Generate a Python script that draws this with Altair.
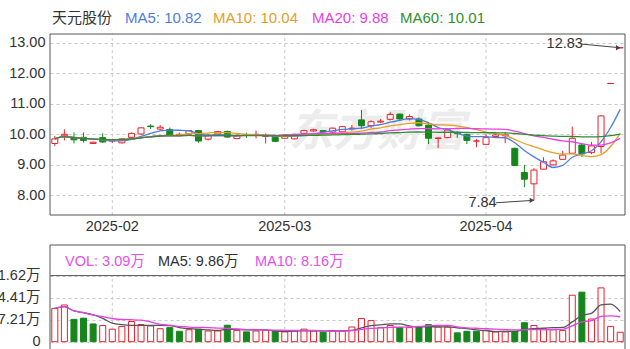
import altair as alt
import pandas as pd

# ---------------- data ----------------
dates = [
    "2025-01-20", "2025-01-21", "2025-01-22", "2025-01-23", "2025-01-24", "2025-01-27",
    "2025-02-05", "2025-02-06", "2025-02-07", "2025-02-10", "2025-02-11", "2025-02-12",
    "2025-02-13", "2025-02-14", "2025-02-17", "2025-02-18", "2025-02-19", "2025-02-20",
    "2025-02-21", "2025-02-24", "2025-02-25", "2025-02-26", "2025-02-27", "2025-02-28",
    "2025-03-03", "2025-03-04", "2025-03-05", "2025-03-06", "2025-03-07", "2025-03-10",
    "2025-03-11", "2025-03-12", "2025-03-13", "2025-03-14", "2025-03-17", "2025-03-18",
    "2025-03-19", "2025-03-20", "2025-03-21", "2025-03-24", "2025-03-25", "2025-03-26",
    "2025-03-27", "2025-03-28", "2025-03-31", "2025-04-01", "2025-04-02", "2025-04-03",
    "2025-04-07", "2025-04-08", "2025-04-09", "2025-04-10", "2025-04-11", "2025-04-14",
    "2025-04-15", "2025-04-16", "2025-04-17", "2025-04-18", "2025-04-21", "2025-04-22",
]
opens = [
    9.70, 9.95, 9.90, 9.90, 9.70, 9.89, 9.78, 9.72, 9.90, 10.01,
    10.27, 10.17, 10.16, 9.98, 10.01, 10.12, 9.84, 10.01, 10.09, 9.86,
    9.98, 9.97, 9.93, 9.90, 9.87, 9.85, 10.03, 10.11, 10.12, 10.07,
    10.08, 10.18, 10.47, 10.28, 10.40, 10.49, 10.66, 10.50, 10.50, 10.30,
    9.86, 9.89, 10.05, 10.00, 9.78, 9.67, 9.93, 9.95, 9.54, 8.75,
    8.38, 8.86, 9.00, 9.18, 9.38, 9.65, 9.40, 9.60, 11.66, 12.83,
]
closes = [
    9.85, 10.00, 9.82, 9.80, 9.74, 9.75, 9.80, 9.85, 10.03, 10.21,
    10.25, 10.23, 9.97, 10.00, 10.12, 9.78, 9.97, 10.09, 9.91, 9.97,
    9.96, 10.00, 9.95, 9.77, 9.98, 10.00, 10.12, 10.15, 10.08, 10.20,
    10.25, 10.20, 10.28, 10.41, 10.43, 10.65, 10.50, 10.58, 10.28, 9.87,
    9.88, 10.14, 10.02, 9.80, 9.78, 9.89, 9.98, 9.98, 8.98, 8.53,
    8.83, 9.10, 9.13, 9.32, 9.87, 9.36, 9.62, 10.60, 11.66, 12.83,
]
highs = [
    9.95, 10.16, 10.06, 10.06, 9.76, 10.03, 9.86, 9.87, 10.06, 10.23,
    10.33, 10.30, 10.22, 10.05, 10.14, 10.14, 9.99, 10.11, 10.12, 9.99,
    10.05, 10.12, 10.03, 9.93, 10.00, 10.02, 10.15, 10.18, 10.14, 10.22,
    10.27, 10.30, 10.79, 10.46, 10.50, 10.72, 10.68, 10.65, 10.55, 10.40,
    9.90, 10.16, 10.10, 10.02, 9.85, 10.00, 10.08, 10.08, 9.57, 9.00,
    8.89, 9.25, 9.18, 9.46, 10.25, 9.70, 9.75, 10.62, 11.66, 12.83,
]
lows = [
    9.62, 9.80, 9.70, 9.73, 9.68, 9.71, 9.72, 9.70, 9.88, 9.99,
    10.17, 10.13, 9.95, 9.93, 9.99, 9.72, 9.80, 9.99, 9.88, 9.84,
    9.88, 9.87, 9.70, 9.74, 9.85, 9.83, 10.00, 10.08, 10.05, 10.05,
    10.06, 10.12, 10.17, 10.21, 10.36, 10.45, 10.48, 10.45, 10.25, 9.68,
    9.55, 9.87, 9.88, 9.68, 9.58, 9.67, 9.90, 9.71, 8.98, 8.27,
    7.84, 8.85, 8.98, 9.18, 9.38, 9.26, 9.35, 9.38, 11.66, 12.83,
]
# volume in 万
volumes = [
    10.9, 12.0, 7.3, 7.7, 5.8, 5.3, 4.1, 5.0, 6.6, 5.6,
    5.2, 4.25, 4.6, 3.4, 3.9, 4.1, 3.5, 3.5, 5.4, 3.7,
    3.2, 3.5, 3.7, 3.4, 3.2, 3.5, 4.1, 3.5, 3.1, 3.5,
    3.5, 4.8, 7.6, 6.9, 4.6, 5.3, 4.6, 4.6, 4.6, 5.6,
    4.8, 4.8, 2.9, 3.4, 3.4, 3.7, 3.2, 3.2, 3.4, 6.2,
    5.3, 4.25, 3.9, 3.7, 15.2, 16.2, 7.4, 17.6, 5.0, 3.09,
]
# 1 = red (up) volume bar, 0 = green (down) volume bar
vol_up = [
    1, 1, 0, 0, 0, 1, 1, 1, 1, 1,
    1, 1, 0, 0, 1, 0, 1, 1, 0, 1,
    0, 1, 1, 0, 1, 1, 1, 1, 0, 1,
    1, 1, 1, 1, 1, 1, 0, 1, 0, 0,
    1, 1, 0, 0, 0, 1, 1, 1, 0, 0,
    1, 1, 1, 1, 1, 0, 1, 1, 1, 1,
]

stock_name = "天元股份"
ma_names = ["MA5", "MA10", "MA20", "MA60"]
ma_windows = [5, 10, 20, 60]
ma_legend_values = [10.82, 10.04, 9.88, 10.01]
vol_legend_names = ["VOL", "MA5", "MA10"]
vol_legend_values = [3.09, 9.86, 8.16]
vol_ma_windows = [5, 10]

price_ticks = [8, 9, 10, 11, 12, 13]
price_domain = [7.36, 13.28]
vol_ticks = [0, 7.21, 14.41, 21.62]
vol_domain = [0, 21.62]

month_starts = ["2025-02-05", "2025-03-03", "2025-04-01"]
month_labels = ["2025-02", "2025-03", "2025-04"]

# max / min annotations
ann_values = [12.83, 7.84]
ann_point_dates = ["2025-04-22", "2025-04-09"]
ann_label_dates = ["2025-04-16", "2025-04-02"]
ann_label_values = [12.95, 7.76]

# ---------------- styling ----------------
RED = "#e8202a"
GREEN = "#15861b"
MA_COLORS = ["#4e7ce6", "#e5a024", "#e63fe6", "#2f8f2f"]
VOL_MA_COLORS = ["#555555", "#e63fe6"]
VOL_LEGEND_COLORS = ["#e650e6", "#333333", "#e650e6"]
GRID = "#c8c8c8"
FRAME = "#555555"
FONT = "Liberation Sans, Noto Sans CJK SC, sans-serif"

W, H = 575, 315
PRICE_TOP, PRICE_BOTTOM = 0, 181
VOL_TOP_FRAME = 211
VOL_RANGE = [307.7, 241.6]

df = pd.DataFrame({
    "date": dates, "open": opens, "close": closes, "high": highs, "low": lows,
    "vol": volumes, "vol_up": vol_up,
})
months_df = pd.DataFrame({"date": month_starts, "label": month_labels})
ann_df = pd.DataFrame({
    "date": ann_point_dates, "value": ann_values,
    "label_date": ann_label_dates, "label_value": ann_label_values,
    "text": [f"{v:.2f}" for v in ann_values],
})
one = alt.Data(values=[{}])

x_scale = alt.Scale(type="band", domain=dates, paddingInner=0, paddingOuter=0)


def X(field="date"):
    return alt.X(f"{field}:O", scale=x_scale, axis=None)


price_scale = alt.Scale(domain=price_domain, range=[PRICE_BOTTOM, PRICE_TOP], nice=False, zero=False)
vol_scale = alt.Scale(domain=vol_domain, range=VOL_RANGE, nice=False, zero=False)

price_axis = alt.Axis(
    orient="left", values=price_ticks, format=".2f", title=None,
    grid=True, gridDash=[3, 3], gridColor=GRID, gridWidth=1,
    ticks=False, tickSize=0, domain=False, labelPadding=5,
    labelFont=FONT, labelFontSize=14.5, labelColor="#333333", labelOverlap=False,
)
vol_axis = alt.Axis(
    orient="left", values=vol_ticks, title=None,
    labelExpr="datum.value == 0 ? '0' : format(datum.value, '.2f') + '万'",
    grid=True, gridDash=[3, 3], gridColor=GRID, gridWidth=1,
    ticks=False, tickSize=0, domain=False, labelPadding=10,
    labelFont=FONT, labelFontSize=14.5, labelColor="#333333", labelOverlap=False,
)

up_price = alt.datum.close >= alt.datum.open
up_vol = alt.datum.vol_up == 1

# ---------------- price panel ----------------
watermark = alt.Chart(one).mark_text(
    text="东方财富", font="Noto Sans CJK SC", fontSize=44, fontWeight="bold",
    fontStyle="italic", color="#ececec",
).encode(x=alt.value(327), y=alt.value(99))

vgrid_price = alt.Chart(months_df).mark_rule(strokeDash=[3, 3], color=GRID, strokeWidth=1).encode(
    x=X(),
    y=alt.YDatum(datum=price_domain[0], scale=price_scale),
    y2=alt.Y2Datum(datum=price_domain[1]),
)

wicks = alt.Chart(df).mark_rule(strokeWidth=1).encode(
    x=X(),
    y=alt.Y("low:Q", scale=price_scale, axis=price_axis),
    y2="high:Q",
    color=alt.when(up_price).then(alt.value(RED)).otherwise(alt.value(GREEN)),
)

bodies = alt.Chart(df).mark_bar(size=6, strokeWidth=1).encode(
    x=X(),
    y=alt.Y("open:Q", scale=price_scale),
    y2="close:Q",
    fill=alt.when(up_price).then(alt.value("white")).otherwise(alt.value(GREEN)),
    stroke=alt.when(up_price).then(alt.value(RED)).otherwise(alt.value(GREEN)),
)

ma_lines = []
for name, win, col in zip(ma_names, ma_windows, MA_COLORS):
    ma_lines.append(
        alt.Chart(df).transform_window(
            **{name: "mean(close)"}, frame=[-(win - 1), 0], sort=[alt.SortField("date")]
        ).mark_line(color=col, strokeWidth=1.3, interpolate="monotone").encode(
            x=X(), y=alt.Y(f"{name}:Q", scale=price_scale)
        )
    )

month_text = alt.Chart(months_df).mark_text(
    font=FONT, fontSize=14.5, color="#333333", baseline="middle", dy=12
).encode(
    x=X(), y=alt.YDatum(datum=price_domain[0], scale=price_scale), text="label:N"
)

ann_text = alt.Chart(ann_df).mark_text(
    font=FONT, fontSize=14.5, color="#333333", align="right", baseline="middle", dx=1
).encode(x=X("label_date"), y=alt.Y("label_value:Q", scale=price_scale), text="text:N")

ann_line = alt.Chart(ann_df).mark_rule(color="#444444", strokeWidth=1).encode(
    x=X("label_date"), x2="date:O",
    y=alt.Y("label_value:Q", scale=price_scale), y2="value:Q",
)

ann_head = alt.Chart(ann_df).mark_point(
    shape="triangle-right", filled=True, size=28, color="#444444", opacity=1, xOffset=-2
).encode(x=X(), y=alt.Y("value:Q", scale=price_scale))

price_frame = alt.Chart(one).mark_rect(fillOpacity=0, stroke=FRAME, strokeWidth=1).encode(
    x=alt.value(0), x2=alt.value(W), y=alt.value(PRICE_TOP), y2=alt.value(PRICE_BOTTOM)
)

legend_items = [(stock_name, "#333333")] + [
    (f"{n}: {v:.2f}", c) for n, v, c in zip(ma_names, ma_legend_values, MA_COLORS)
]
legend_x = [2, 75, 163, 262, 350]
price_legend = [
    alt.Chart(one).mark_text(
        text=t, font=FONT, fontSize=15, color=c, align="left", baseline="middle"
    ).encode(x=alt.value(lx), y=alt.value(-16))
    for (t, c), lx in zip(legend_items, legend_x)
]

price_layer = alt.layer(
    watermark, vgrid_price, wicks, bodies, *ma_lines, month_text,
    ann_line, ann_head, ann_text, price_frame, *price_legend,
)

# ---------------- volume panel ----------------
vgrid_vol = alt.Chart(months_df).mark_rule(strokeDash=[3, 3], color=GRID, strokeWidth=1).encode(
    x=X(),
    y=alt.YDatum(datum=vol_domain[0], scale=vol_scale),
    y2=alt.Y2Datum(datum=vol_domain[1]),
)

vol_bars = alt.Chart(df).mark_bar(size=6, strokeWidth=1).encode(
    x=X(),
    y=alt.Y("vol:Q", scale=vol_scale, axis=vol_axis),
    fill=alt.when(up_vol).then(alt.value("white")).otherwise(alt.value(GREEN)),
    stroke=alt.when(up_vol).then(alt.value(RED)).otherwise(alt.value(GREEN)),
)

vol_ma_lines = []
for win, col in zip(vol_ma_windows, VOL_MA_COLORS):
    nm = f"vma{win}"
    vol_ma_lines.append(
        alt.Chart(df).transform_window(
            **{nm: "mean(vol)"}, frame=[-(win - 1), 0], sort=[alt.SortField("date")]
        ).mark_line(color=col, strokeWidth=1.3, interpolate="monotone").encode(
            x=X(), y=alt.Y(f"{nm}:Q", scale=vol_scale)
        )
    )

vol_frame = alt.Chart(one).mark_rect(fillOpacity=0, stroke=FRAME, strokeWidth=1).encode(
    x=alt.value(0), x2=alt.value(W), y=alt.value(VOL_TOP_FRAME), y2=alt.value(H + 2)
)
vol_sep = alt.Chart(one).mark_rule(color=FRAME, strokeWidth=1).encode(
    y=alt.YDatum(datum=vol_domain[1], scale=vol_scale)
)

vol_legend_texts = [
    f"{n}: {v:.2f}万" for n, v in zip(vol_legend_names, vol_legend_values)
]
vol_legend_x = [15, 108, 205]
vol_legend = [
    alt.Chart(one).mark_text(
        text=t, font=FONT, fontSize=14.5, color=c, align="left", baseline="middle"
    ).encode(x=alt.value(lx), y=alt.value(228))
    for t, c, lx in zip(vol_legend_texts, VOL_LEGEND_COLORS, vol_legend_x)
]

vol_layer = alt.layer(vgrid_vol, vol_bars, *vol_ma_lines, vol_sep, vol_frame, *vol_legend)

chart = alt.layer(price_layer, vol_layer).resolve_scale(y="independent").properties(
    width=W, height=H,
    autosize=alt.AutoSizeParams(type="none"),
    padding={"left": 50, "top": 34, "right": 5, "bottom": 0},
    background="white",
).configure_view(stroke=None)

chart.save("out.html", embed_options={"renderer": "svg", "actions": False})
